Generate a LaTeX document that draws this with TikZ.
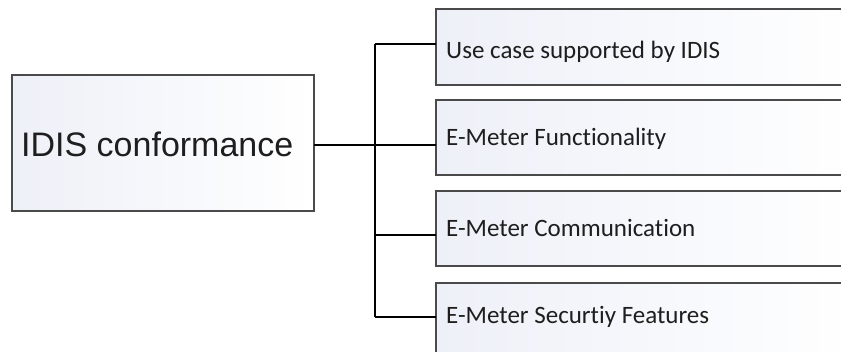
\documentclass[tikz,border=0pt]{standalone}
\usepackage{fontspec}
\setmainfont{Liberation Sans}
\newfontfamily\boxfont[Ligatures=NoCommon]{Carlito}
\definecolor{edgecol}{HTML}{4A4A4A}
\definecolor{txtcol}{HTML}{1E1E1E}
\definecolor{tintcol}{HTML}{EEF0F8}
\begin{document}
\begin{tikzpicture}[x=1pt,y=-1pt,
  framebox/.style={draw=edgecol, line width=1.6pt, left color=tintcol, right color=white},
  mainlabel/.style={anchor=west, inner sep=0pt, text=txtcol, font=\fontsize{34}{36}\selectfont},
  sublabel/.style={anchor=west, inner sep=0pt, text=txtcol, font=\boxfont\fontsize{25}{27}\selectfont},
  link/.style={draw=black, line width=1.1pt}]
\useasboundingbox (0,0) rectangle (841,351);
\fill[white] (0,0) rectangle (841,351);
\clip (0,0) rectangle (841,351);
% main box
\path[framebox] (12,75) rectangle (314,211);
\node[mainlabel] (main) at (21,144) {IDIS conformance};
\coordinate (mainR) at (314,145);
% sub boxes
\path[framebox] (436,9) rectangle (860,85);
\path[framebox] (436,100) rectangle (860,175);
\path[framebox] (436,191) rectangle (860,266);
\path[framebox] (436,283) rectangle (860,360);
\node[sublabel] (s1) at (446,52) {Use case supported by IDIS};
\node[sublabel] (s2) at (446,139) {E-Meter Functionality};
\node[sublabel] (s3) at (446,228) {E-Meter Communication};
\node[sublabel] (s4) at (446,317) {E-Meter Securtiy Features};
% connector anchors
\coordinate (b1) at (436,44);
\coordinate (b2) at (436,145);
\coordinate (b3) at (436,235);
\coordinate (b4) at (436,317);
\coordinate (ttop) at (375,44);
\coordinate (tmid) at (375,235);
\coordinate (tbot) at (375,317);
\path[link] (mainR) -- (b2);
\path[link] (ttop) -- (tbot);
\path[link] (ttop) -- (b1);
\path[link] (tmid) -- (b3);
\path[link] (tbot) -- (b4);
\end{tikzpicture}
\end{document}
